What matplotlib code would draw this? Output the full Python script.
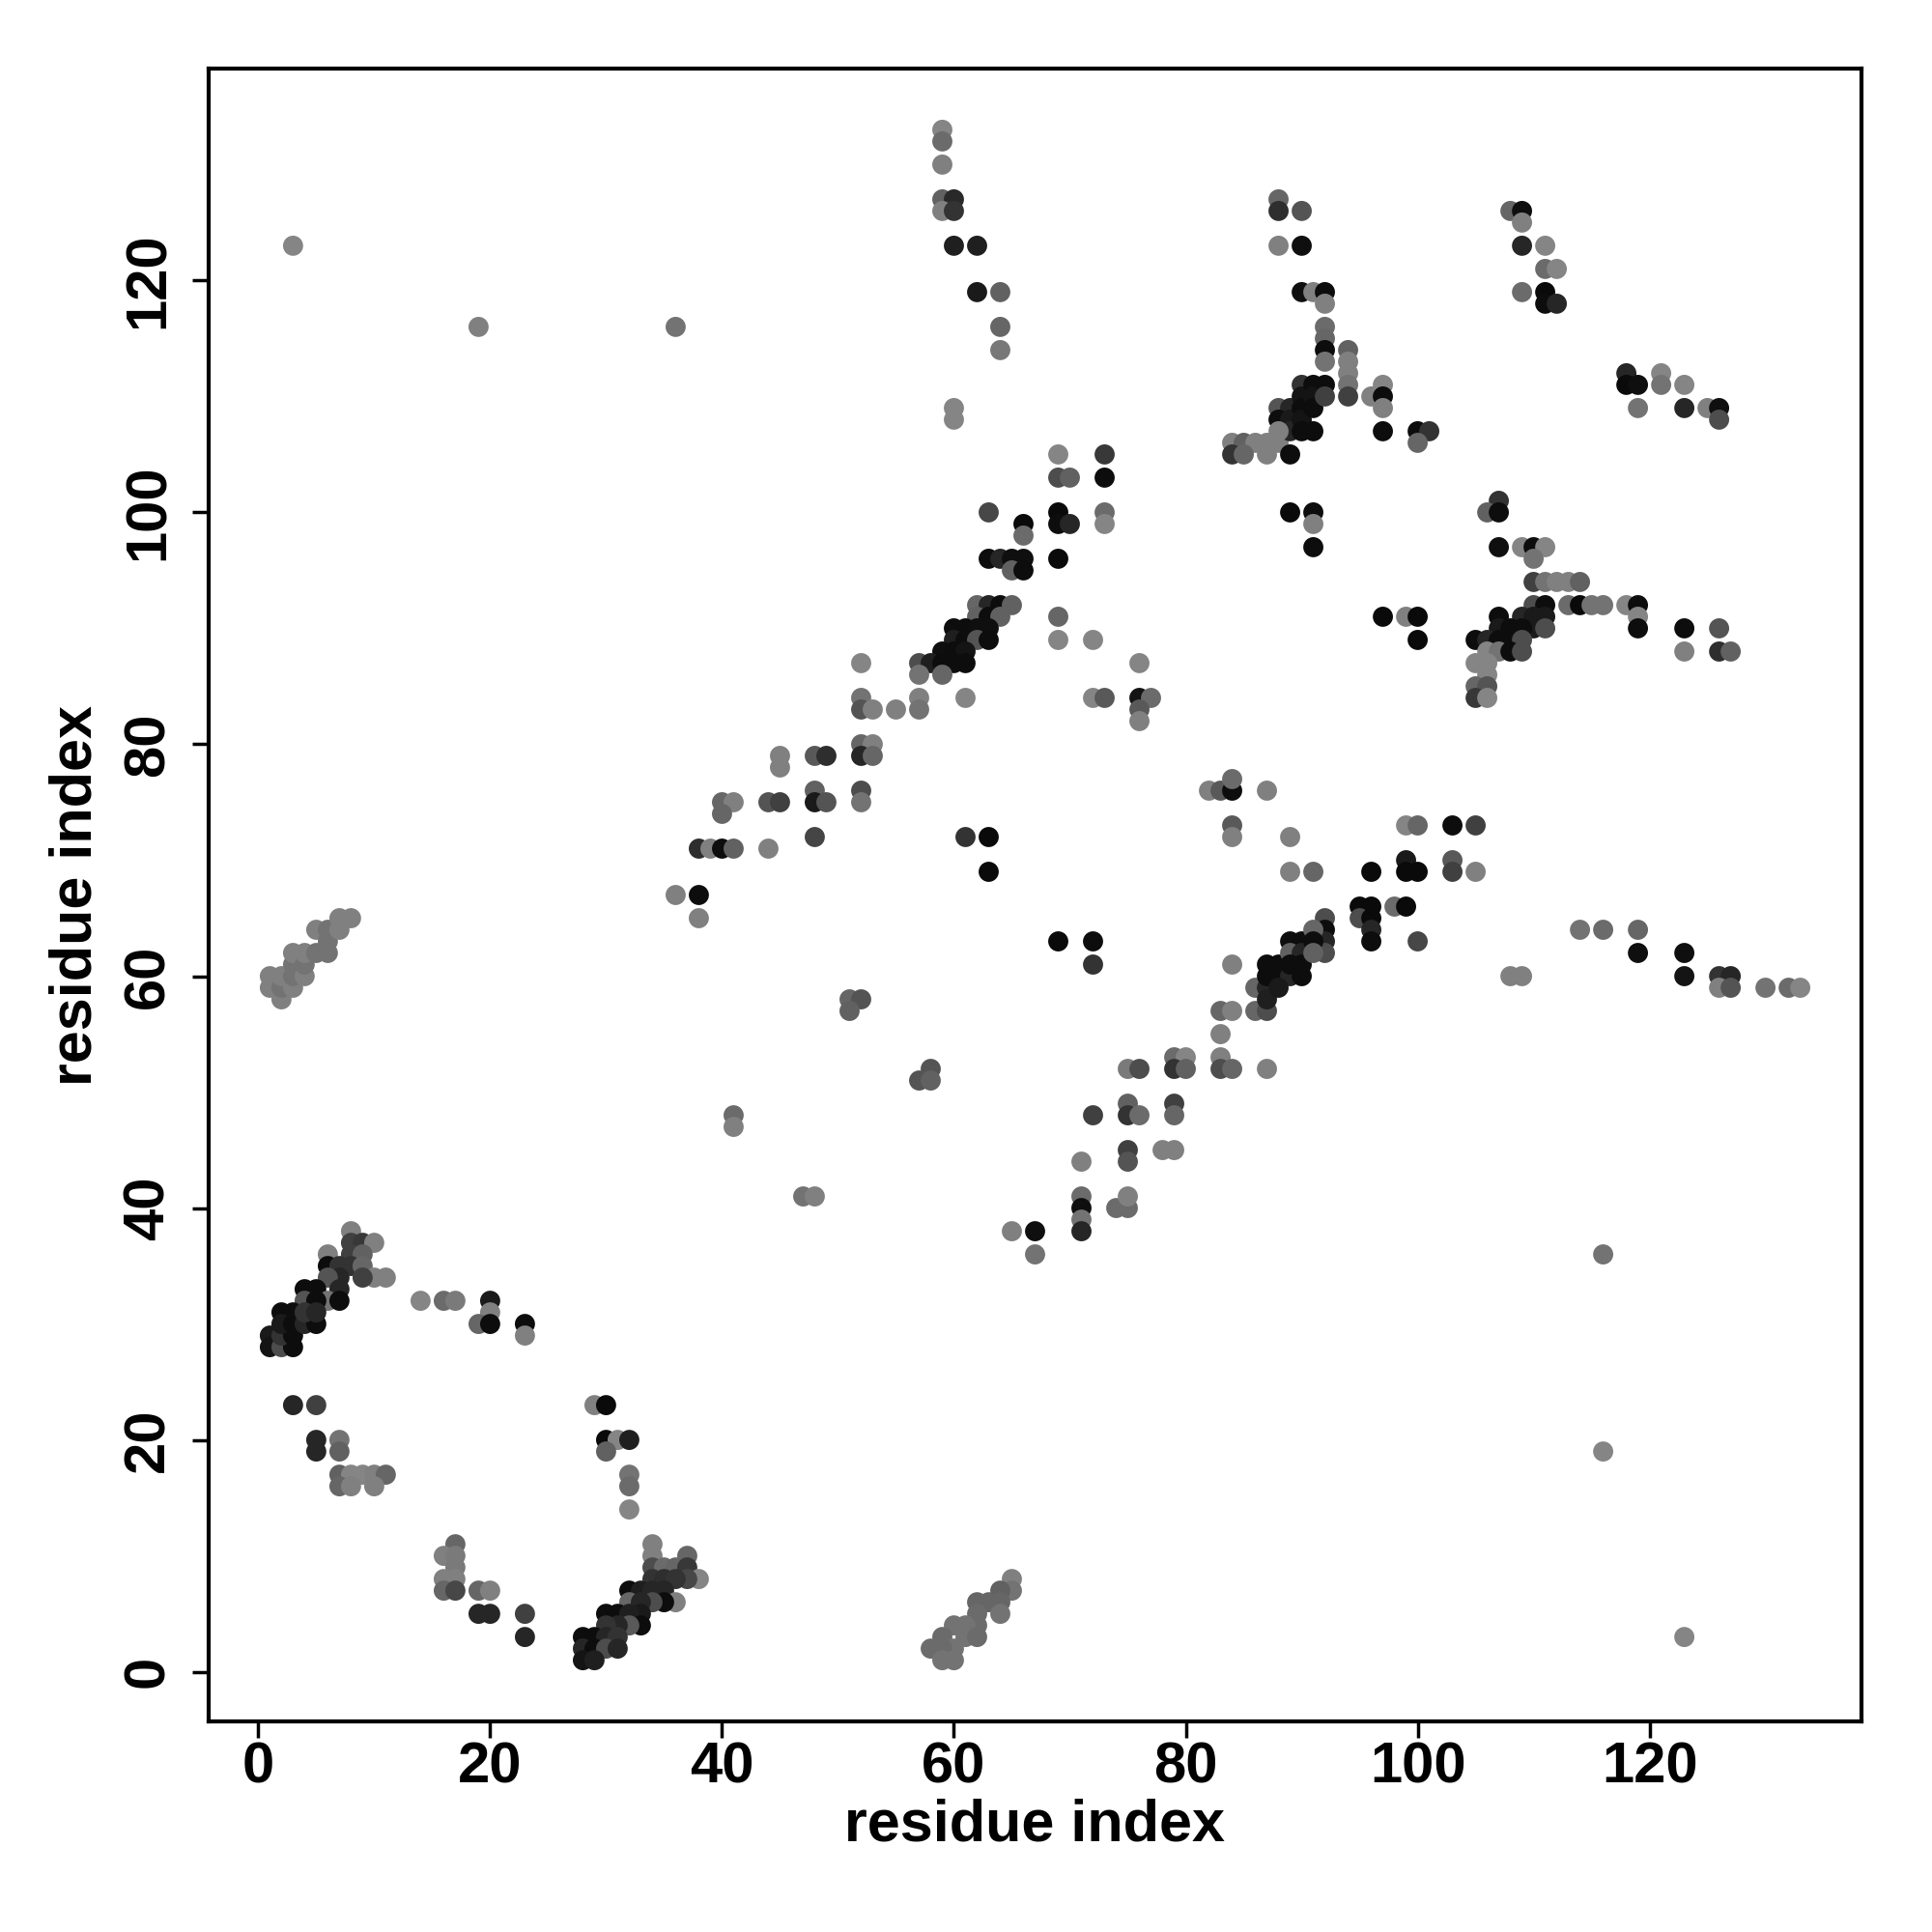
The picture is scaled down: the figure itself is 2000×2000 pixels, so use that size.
import matplotlib
matplotlib.use("Agg")
import matplotlib.pyplot as plt

# residue-residue contacts: x index, y index, gray level (0 = black)
x_idx = [
 3, 19, 36,
 59, 59, 59, 59, 60, 59, 60, 60, 62, 62, 64, 64, 64, 60, 60,
 69, 69, 70, 73, 73,
 88, 88, 90, 88, 90, 90, 91, 92, 92, 92, 92, 92, 92,
 94, 94, 94, 94, 94, 96, 97, 97, 97, 97, 100, 101, 100,
 84, 85, 86, 87, 88, 84, 85, 87, 89,
 88, 89, 88, 89, 89, 88,
 90, 90, 90, 90, 90, 91, 91, 91, 91, 92, 92,
 108, 109, 109, 109, 111, 111, 112, 109, 111, 111, 112,
 118, 118, 119, 121, 121, 123, 119, 123, 125, 126, 126,
 40, 41, 40, 38, 39, 40, 41, 36, 38,
 63, 66, 66, 69, 69, 70, 73, 73,
 63, 64, 65, 66, 65, 66, 69, 89,
 62, 63, 64, 65, 62, 63, 64,
 60, 61, 62, 63, 60, 61, 62, 63, 59, 60, 61,
 57, 58, 59, 60, 61, 57, 59,
 52, 52, 52, 53, 55, 57, 57, 61,
 69, 69, 72, 76, 72, 73, 76, 77, 76, 76,
 52, 53, 52, 53, 45, 45, 48, 49, 48, 48, 49, 44, 45, 52, 52, 48, 44,
 61, 63, 63,
 82, 83, 84, 84, 87, 84, 84, 89, 89,
 91, 91, 91,
 107, 106, 107, 107, 109, 110, 111, 110,
 110, 111, 112, 113, 114,
 110, 111, 113, 114, 115, 116, 118, 119, 119, 119,
 123, 126, 123, 126, 127,
 97, 99, 100, 100,
 109, 110, 111, 110, 111, 107, 107, 108, 109, 105, 106, 107, 108, 109,
 106, 107, 108, 109, 105, 106, 106, 105, 106, 105, 106,
 99, 100, 103, 105,
 91, 96, 99, 99, 100, 103, 103, 105,
 38,
 1, 1, 2, 2, 2, 3, 3, 3, 3, 4, 4, 4, 5, 5, 6, 6, 6, 7, 7, 8,
 41, 41,
 8, 8, 9, 10, 6, 8, 9, 6, 7, 8, 9, 10, 11, 9, 7, 6, 4, 5, 7, 6, 7, 4, 5, 2, 3,
 14, 16, 17, 20, 20,
 1, 1, 2, 3, 2, 3, 2, 3, 4, 5, 4, 5,
 19, 20, 23, 23,
 3, 5, 5, 5, 7, 7,
 7, 8, 9, 10, 11, 7, 8, 10,
 29, 30, 30, 31, 32, 30, 32, 32, 32,
 17, 16, 17, 17, 16, 17, 16, 17,
 19, 20, 19, 20, 23, 23,
 34, 34, 37, 34, 35, 36, 37, 38, 37, 34, 35, 36, 32, 33, 34, 35, 36, 35, 34, 32, 33,
 30, 31, 33, 32, 33, 32, 31, 30, 28, 29, 30, 31, 28, 29, 30, 31, 28, 29,
 65, 65, 64, 64, 63, 62, 64, 62, 62, 61, 60, 61, 62, 59, 60, 58, 59, 59, 60,
 69, 72, 72, 51, 52, 51, 58, 57, 58, 47, 48, 65, 67, 67,
 71, 71, 71, 71, 71, 72, 74, 75, 75, 75, 75, 75, 75, 76, 75, 76,
 78, 79, 79, 79, 79, 80, 79, 80,
 83, 83, 83, 84, 87, 83, 84, 86, 87, 84, 86, 87, 87, 87, 88, 87, 88,
 89, 90, 89, 90, 89, 90, 88, 89, 90,
 95, 96, 95, 96, 96, 96, 98, 99, 100,
 92, 92, 92, 92, 91, 91, 91,
 114, 116, 119, 119, 123, 123, 108, 109, 126, 127, 126, 127, 130, 132, 133, 116,
 116, 123,
]
y_idx = [
 123, 116, 116,
 133, 132, 130, 127, 127, 126, 126, 123, 123, 119, 119, 116, 114, 109, 108,
 105, 103, 103, 105, 103,
 127, 126, 126, 123, 123, 119, 119, 119, 118, 116, 115, 114, 113,
 114, 113, 112, 111, 110, 110, 111, 110, 109, 107, 107, 107, 106,
 106, 106, 106, 106, 106, 105, 105, 105, 105,
 109, 109, 108, 108, 107, 107,
 111, 110, 109, 108, 107, 111, 110, 109, 107, 111, 110,
 126, 126, 125, 123, 123, 121, 121, 119, 119, 118, 118,
 112, 111, 111, 112, 111, 111, 109, 109, 109, 109, 108,
 75, 75, 74, 71, 71, 71, 71, 67, 67,
 100, 99, 98, 100, 99, 99, 100, 99,
 96, 96, 96, 96, 95, 95, 96, 100,
 92, 92, 92, 92, 91, 91, 91,
 90, 90, 90, 90, 89, 89, 89, 89, 88, 88, 88,
 87, 87, 87, 87, 87, 86, 86,
 87, 84, 83, 83, 83, 84, 83, 84,
 91, 89, 89, 87, 84, 84, 84, 84, 83, 82,
 80, 80, 79, 79, 79, 78, 79, 79, 76, 75, 75, 75, 75, 76, 75, 72, 71,
 72, 72, 69,
 76, 76, 76, 77, 76, 73, 72, 72, 69,
 100, 99, 97,
 101, 100, 100, 97, 97, 97, 97, 96,
 94, 94, 94, 94, 94,
 92, 92, 92, 92, 92, 92, 92, 92, 91, 90,
 90, 90, 88, 88, 88,
 91, 91, 91, 89,
 91, 91, 91, 90, 90, 91, 90, 90, 90, 89, 89, 89, 89, 89,
 88, 88, 88, 88, 87, 87, 86, 85, 85, 84, 84,
 73, 73, 73, 73,
 69, 69, 70, 69, 69, 70, 69, 69,
 65,
 60, 59, 58, 59, 60, 59, 60, 61, 62, 60, 61, 62, 62, 64, 62, 63, 64, 64, 65, 65,
 48, 47,
 38, 37, 37, 37, 36, 36, 36, 35, 35, 35, 35, 34, 34, 34, 34, 34, 33, 33, 33, 32, 32, 32, 32, 31, 31,
 32, 32, 32, 32, 31,
 29, 28, 28, 28, 29, 29, 30, 30, 30, 30, 31, 31,
 30, 30, 30, 29,
 23, 23, 20, 19, 20, 19,
 17, 17, 17, 17, 17, 16, 16, 16,
 23, 23, 20, 20, 20, 19, 17, 16, 14,
 11, 10, 10, 9, 8, 8, 7, 7,
 7, 7, 5, 5, 5, 3,
 11, 10, 10, 9, 9, 9, 9, 8, 8, 8, 8, 8, 7, 7, 7, 7, 6, 6, 6, 6, 6,
 5, 5, 5, 5, 4, 4, 4, 4, 3, 3, 3, 3, 2, 2, 2, 2, 1, 1,
 8, 7, 7, 6, 6, 6, 5, 5, 4, 4, 4, 3, 3, 3, 2, 2, 2, 1, 1,
 63, 63, 61, 58, 58, 57, 52, 51, 51, 41, 41, 38, 38, 36,
 41, 40, 39, 38, 44, 48, 40, 40, 41, 45, 44, 49, 48, 48, 52, 52,
 45, 45, 49, 48, 53, 53, 52, 52,
 55, 53, 52, 52, 52, 57, 57, 57, 57, 61, 59, 59, 58, 61, 61, 60, 60,
 63, 63, 62, 62, 60, 60, 59, 61, 61,
 66, 66, 65, 65, 64, 63, 66, 66, 63,
 65, 64, 63, 62, 64, 63, 62,
 64, 64, 64, 62, 62, 60, 60, 60, 60, 60, 59, 59, 59, 59, 59, 36,
 19, 3,
]
gray_level = [
 .52, .50, .45,
 .52, .42, .50, .38, .16, .50, .20, .12, .12, .10, .38, .40, .47, .52, .52,
 .52, .30, .38, .22, .05,
 .40, .18, .33, .50, .06, .06, .50, .05, .50, .42, .40, .05, .45,
 .38, .50, .50, .45, .25, .50, .52, .05, .50, .05, .05, .20, .40,
 .50, .38, .50, .50, .50, .20, .40, .50, .05,
 .33, .15, .05, .10, .15, .50,
 .20, .08, .05, .08, .05, .05, .08, .05, .05, .05, .25,
 .40, .06, .50, .15, .52, .42, .52, .42, .04, .05, .15,
 .15, .04, .06, .52, .45, .52, .45, .15, .50, .06, .30,
 .40, .50, .40, .18, .50, .05, .38, .50, .05,
 .28, .04, .42, .04, .05, .15, .42, .52,
 .05, .15, .06, .06, .38, .05, .04, .04,
 .40, .15, .05, .38, .38, .05, .38,
 .05, .05, .06, .06, .12, .05, .33, .05, .06, .05, .08,
 .30, .12, .05, .05, .05, .45, .40,
 .52, .45, .33, .50, .50, .50, .45, .52,
 .40, .52, .52, .52, .52, .35, .08, .42, .35, .50,
 .40, .50, .15, .40, .50, .50, .35, .18, .38, .10, .33, .33, .25, .30, .45, .27, .50,
 .20, .04, .04,
 .50, .35, .05, .42, .50, .35, .50, .50, .50,
 .05, .50, .05,
 .20, .38, .05, .06, .52, .05, .52, .45,
 .25, .45, .50, .50, .38,
 .30, .05, .42, .04, .45, .45, .52, .05, .52, .05,
 .05, .33, .50, .18, .38,
 .04, .50, .04, .04,
 .15, .10, .10, .10, .30, .05, .10, .05, .05, .05, .15, .05, .05, .30,
 .52, .45, .05, .30, .52, .52, .52, .40, .33, .22, .52,
 .52, .40, .05, .25,
 .40, .04, .10, .04, .04, .35, .25, .50,
 .50,
 .50, .50, .50, .45, .50, .50, .45, .45, .50, .50, .45, .50, .45, .50, .45, .45, .45, .50, .50, .50,
 .42, .50,
 .50, .25, .22, .50, .50, .25, .38, .05, .20, .20, .40, .50, .50, .25, .15, .33, .05, .05, .15, .45, .05, .33, .05, .05, .05,
 .52, .42, .48, .10, .50,
 .10, .08, .30, .05, .20, .05, .10, .05, .15, .05, .20, .15,
 .40, .05, .05, .50,
 .15, .25, .15, .15, .45, .38,
 .38, .52, .52, .50, .40, .40, .50, .50,
 .50, .04, .04, .52, .12, .38, .45, .42, .52,
 .40, .50, .48, .48, .50, .50, .40, .28,
 .40, .50, .15, .15, .25, .15,
 .50, .50, .40, .30, .42, .40, .22, .52, .28, .20, .18, .20, .05, .12, .15, .15, .50, .05, .30, .40, .15,
 .05, .05, .10, .12, .05, .35, .15, .20, .05, .05, .15, .20, .15, .05, .30, .15, .08, .12,
 .50, .45, .38, .40, .40, .40, .45, .42, .42, .45, .45, .45, .42, .42, .45, .42, .42, .45, .45,
 .04, .05, .20, .40, .33, .38, .33, .33, .38, .45, .50, .50, .06, .45,
 .42, .06, .45, .15, .50, .25, .42, .42, .50, .25, .33, .38, .20, .42, .48, .30,
 .50, .50, .25, .40, .42, .52, .20, .38,
 .50, .50, .30, .40, .50, .40, .50, .40, .30, .50, .40, .15, .12, .05, .05, .05, .05,
 .05, .05, .38, .15, .15, .05, .10, .05, .05,
 .04, .04, .30, .04, .15, .05, .42, .04, .28,
 .30, .05, .15, .30, .40, .05, .38,
 .45, .42, .40, .06, .06, .08, .50, .50, .20, .15, .50, .33, .45, .42, .52, .45,
 .52, .52,
]

tick_vals = [0, 20, 40, 60, 80, 100, 120]
axis_label = "residue index"

plt.rcParams['font.family'] = ['Liberation Sans', 'DejaVu Sans']
plt.rcParams['font.weight'] = 'bold'

fig = plt.figure(figsize=(20, 20), dpi=100)
ax = fig.add_axes([0.108, 0.109, 0.8555, 0.8555])

colors = [(g, g, g) for g in gray_level]
ax.scatter(x_idx, y_idx, s=225, c=colors, linewidths=0)

lo, hi = min(min(x_idx), min(y_idx)), max(max(x_idx), max(y_idx))
pad = (hi - lo) * 0.04
ax.set_xlim(lo - pad, hi + pad)
ax.set_ylim(lo - pad, hi + pad)

ax.set_xticks(tick_vals)
ax.set_yticks(tick_vals)
ax.set_xticklabels([str(v) for v in tick_vals], fontsize=43, fontweight='bold')
ax.set_yticklabels([str(v) for v in tick_vals], fontsize=43, fontweight='bold',
                   rotation=90, va='center')
ax.tick_params(axis='both', length=12, width=2.5, direction='out')
ax.tick_params(axis='x', pad=3)
ax.tick_params(axis='y', pad=13)

for sp in ax.spines.values():
    sp.set_linewidth(3)

ax.set_xlabel(axis_label, fontsize=44, fontweight='bold')
ax.set_ylabel(axis_label, fontsize=44, fontweight='bold')
ax.xaxis.label.set_va('center')
ax.yaxis.label.set_va('center')
ax.xaxis.set_label_coords(0.5, -0.063)
ax.yaxis.set_label_coords(-0.080, 0.5)

fig.savefig("out.png", dpi=100, facecolor='white')
